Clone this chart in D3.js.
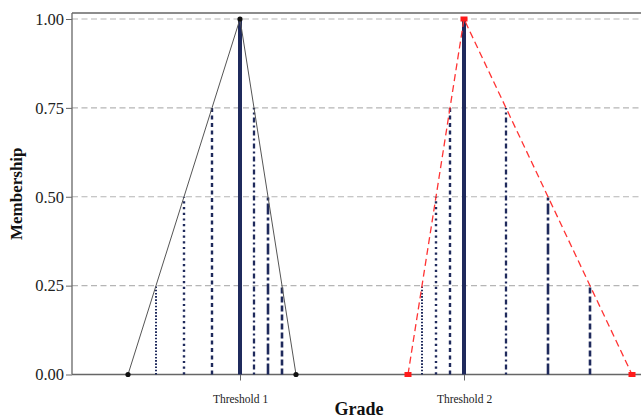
<!DOCTYPE html>
<html>
<head>
<meta charset="utf-8">
<script src="https://cdn.jsdelivr.net/npm/d3@7"></script>
<style>
  html, body { margin: 0; padding: 0; background: #fff; }
  svg { display: block; }
  svg text { font-family: "Liberation Serif", "Times New Roman", serif !important; }
</style>
</head>
<body>
<svg id="chart" width="641" height="418"></svg>
<script>
// Two triangular membership functions on a grade axis
const thresholdLabels = ["Threshold 1", "Threshold 2"];
const thresholdGrades = [3, 7];
const yTicks = [0, 0.25, 0.5, 0.75, 1];

const tri1 = [[1, 0], [3, 1], [4, 0]];
const tri2 = [[6, 0], [7, 1], [10, 0]];

// alpha-cut verticals under each triangle
const cutMembership = [0.25, 0.5, 0.75, 1, 0.75, 0.5, 0.25];
const cutGrades1 = [1.5, 2, 2.5, 3, 3.25, 3.5, 3.75];
const cutGrades2 = [6.25, 6.5, 6.75, 7, 7.75, 8.5, 9.25];

// stroke style for each cut position
const cutDash = ["1.6,1.6", "2.2,3.5", "4,3.5", null, "2,3,5,3", "11,3,3,3", "6,3"];
const cutWidth = [2, 2.4, 2.4, 4, 2.3, 2.6, 2.6];
const navy = "#1f2a5c";
const serif = '"Liberation Serif", "Times New Roman", serif';

const svg = d3.select("#chart");
const x = d3.scaleLinear().domain([0, 10.5]).range([72, 660]);
const y = d3.scaleLinear().domain([0, 1.0169]).range([374.5, 13]);

// frame (top border)
svg.append("line")
  .attr("x1", x(0)).attr("x2", 641)
  .attr("y1", y.range()[1]).attr("y2", y.range()[1])
  .attr("stroke", "#666").attr("stroke-width", 1.3);

// horizontal dashed grid
svg.append("g").selectAll("line").data(yTicks.filter(d => d > 0)).join("line")
  .attr("x1", x(0)).attr("x2", 641)
  .attr("y1", d => y(d)).attr("y2", d => y(d))
  .attr("stroke", "#b5b5b5").attr("stroke-width", 1.2)
  .attr("stroke-dasharray", "6,3.5");

// y axis
const yAxis = svg.append("g")
  .attr("transform", `translate(${x(0)},0)`)
  .call(d3.axisLeft(y).tickValues(yTicks).tickFormat(d3.format(".2f")).tickSize(6).tickPadding(2))
  .attr("font-family", serif);
yAxis.select(".domain").attr("stroke", "#666").attr("stroke-width", 1.3)
  .attr("d", `M0,${y.range()[0]}V${y.range()[1]}`);
yAxis.selectAll(".tick line").attr("stroke", "#666");
yAxis.selectAll(".tick text").attr("font-size", 16.5).attr("fill", "#222");

// x axis
const xAxis = svg.append("g")
  .attr("transform", `translate(0,${y(0)})`)
  .call(d3.axisBottom(x).tickValues(thresholdGrades)
    .tickFormat((d, i) => thresholdLabels[i]).tickSize(6).tickPadding(14))
  .attr("font-family", serif);
xAxis.select(".domain").attr("stroke", "#666").attr("stroke-width", 1.3)
  .attr("d", `M${x(0)},0H641`);
xAxis.selectAll(".tick line").attr("stroke", "#666");
xAxis.selectAll(".tick text").attr("font-size", 11.5).attr("fill", "#222");

// axis titles
svg.append("text")
  .attr("transform", `translate(22,${(y.range()[0] + y.range()[1]) / 2}) rotate(-90)`)
  .attr("text-anchor", "middle")
  .attr("font-size", 17).attr("font-weight", "bold").attr("fill", "#111")
  .text("Membership");
svg.append("text")
  .attr("x", 359).attr("y", 415)
  .attr("text-anchor", "middle")
  .attr("font-size", 18).attr("font-weight", "bold").attr("fill", "#111")
  .text("Grade");

const line = d3.line().x(d => x(d[0])).y(d => y(d[1]));

// alpha-cut vertical lines
function drawCuts(grades) {
  svg.append("g").selectAll("line").data(grades).join("line")
    .attr("x1", d => x(d)).attr("x2", d => x(d))
    .attr("y1", y(0)).attr("y2", (d, i) => y(cutMembership[i]))
    .attr("stroke", navy)
    .attr("stroke-width", (d, i) => cutWidth[i])
    .attr("stroke-dasharray", (d, i) => cutDash[i]);
}
drawCuts(cutGrades1);
drawCuts(cutGrades2);

// triangle 1
svg.append("path").datum(tri1).attr("d", line)
  .attr("fill", "none").attr("stroke", "#555").attr("stroke-width", 1);
svg.append("g").selectAll("circle").data(tri1).join("circle")
  .attr("cx", d => x(d[0])).attr("cy", d => y(d[1])).attr("r", 2.6)
  .attr("fill", "#111");

// triangle 2
svg.append("path").datum(tri2).attr("d", line)
  .attr("fill", "none").attr("stroke", "#ff3333").attr("stroke-width", 1.3)
  .attr("stroke-dasharray", "7,4");
svg.append("g").selectAll("rect").data(tri2).join("rect")
  .attr("x", d => x(d[0]) - 3.5).attr("y", d => y(d[1]) - 2.5)
  .attr("width", 7).attr("height", 5)
  .attr("fill", "#ff1a1a");
</script>
</body>
</html>
